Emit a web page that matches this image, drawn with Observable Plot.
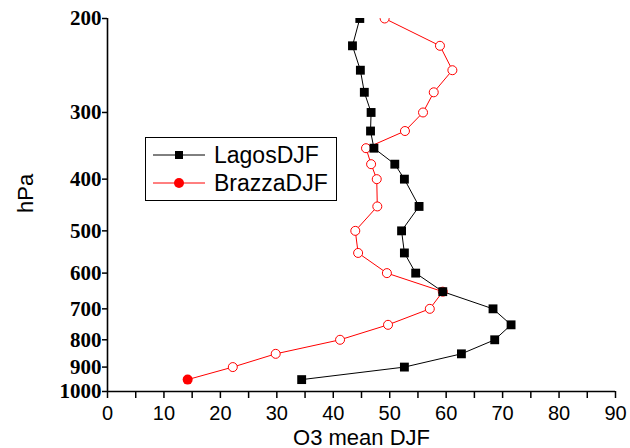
<!DOCTYPE html>
<html>
<head>
<meta charset="utf-8">
<script src="https://cdn.jsdelivr.net/npm/d3@7"></script>
<script src="https://cdn.jsdelivr.net/npm/@observablehq/plot@0.6"></script>
<style>
  html, body { margin: 0; padding: 0; background: #fff; }
  #wrap { position: relative; width: 630px; height: 448px; }
  #legend { position: absolute; left: 145px; top: 137px; width: 190px; height: 62px;
            border: 1px solid #000; background: #fff; font-family: "Liberation Sans", Arial, sans-serif; font-size: 23px; }
  .row { position: absolute; left: 0; height: 28px; display: flex; align-items: center; }
  .row svg { margin-left: 7px; }
  .row span { margin-left: 7px; line-height: 28px; }
</style>
</head>
<body>
<div id="wrap"></div>
<script>
const pressure = [200,225,250,275,300,325,350,375,400,450,500,550,600,650,700,750,800,850,900,950];
const lagos    = [44.7,43.4,44.8,45.5,46.7,46.6,47.2,50.9,52.6,55.2,52.1,52.6,54.6,59.4,68.3,71.5,68.6,62.7,52.6,34.4];
const brazza   = [49.1,58.9,61.1,57.8,55.9,52.7,45.8,46.7,47.7,47.8,43.9,44.4,49.5,59.4,57.1,49.7,41.2,29.8,22.2,14.2];
const seriesNames = ["LagosDJF", "BrazzaDJF"];
const yTicks = [200,300,400,500,600,700,800,900,1000];
const xTicks = d3.range(0, 95, 5);
const xLabel = "O3 mean DJF";
const yLabel = "hPa";

const lagosData = pressure.map((p, i) => ({p, v: lagos[i]}));
const brazzaData = pressure.map((p, i) => ({p, v: brazza[i]}));
const last = pressure.length - 1;

const chart = Plot.plot({
  width: 630,
  height: 448,
  marginLeft: 107,
  marginRight: 15,
  marginTop: 18,
  marginBottom: 57,
  x: {domain: [0, 90]},
  y: {type: "log", domain: [200, 1000], reverse: true},
  style: {background: "#fff"},
  marks: [
    Plot.line(lagosData, {x: "v", y: "p", stroke: "#000", strokeWidth: 1, clip: true}),
    Plot.line(brazzaData, {x: "v", y: "p", stroke: "#ff0000", strokeWidth: 1, clip: true}),
    Plot.dot(brazzaData.slice(0, last), {x: "v", y: "p", r: 4.5, stroke: "#ff0000", fill: "#fff", strokeWidth: 1, clip: true}),
    Plot.dot(lagosData, {x: "v", y: "p", symbol: "square", r: 5, fill: "#000", clip: true}),
    Plot.dot(brazzaData.slice(last), {x: "v", y: "p", r: 5, fill: "#ff0000", clip: true}),
    Plot.ruleX([0], {stroke: "#000", strokeWidth: 1.6}),
    Plot.ruleY([1000], {stroke: "#000", strokeWidth: 1.6}),
    Plot.axisX({ticks: xTicks, tickFormat: d => d % 10 === 0 ? String(d) : "", tickSize: 7, tickPadding: 7,
      strokeWidth: 1.5, fontSize: 20, fontFamily: "Liberation Sans, Arial, sans-serif", label: null, fill: "#000"}),
    Plot.axisY({ticks: yTicks, tickFormat: d => String(d), tickSize: 5, tickPadding: 1,
      strokeWidth: 1.5, fontSize: 21, fontWeight: "bold", fontFamily: "Liberation Serif, Times New Roman, serif", label: null, fill: "#000"}),
    Plot.text([xLabel], {frameAnchor: "bottom", lineAnchor: "bottom", dy: 53, fontSize: 22,
      fontFamily: "Liberation Sans, Arial, sans-serif", fill: "#000"}),
    Plot.text([yLabel], {frameAnchor: "left", dx: -82, dy: 8, rotate: -90, fontSize: 22,
      fontFamily: "Liberation Sans, Arial, sans-serif", fill: "#000"})
  ]
});

const wrap = document.getElementById("wrap");
wrap.appendChild(chart);

const legend = document.createElement("div");
legend.id = "legend";
legend.innerHTML = `
  <div class="row" style="top:3px">
    <svg width="54" height="20"><line x1="0" y1="10" x2="52" y2="10" stroke="#000" stroke-width="1"/><rect x="22" y="6" width="8" height="8" fill="#000"/></svg>
    <span>${seriesNames[0]}</span>
  </div>
  <div class="row" style="top:31px">
    <svg width="54" height="20"><line x1="0" y1="10" x2="52" y2="10" stroke="#ff0000" stroke-width="1"/><circle cx="26" cy="10" r="5" fill="#ff0000"/></svg>
    <span>${seriesNames[1]}</span>
  </div>`;
wrap.appendChild(legend);
</script>
</body>
</html>
